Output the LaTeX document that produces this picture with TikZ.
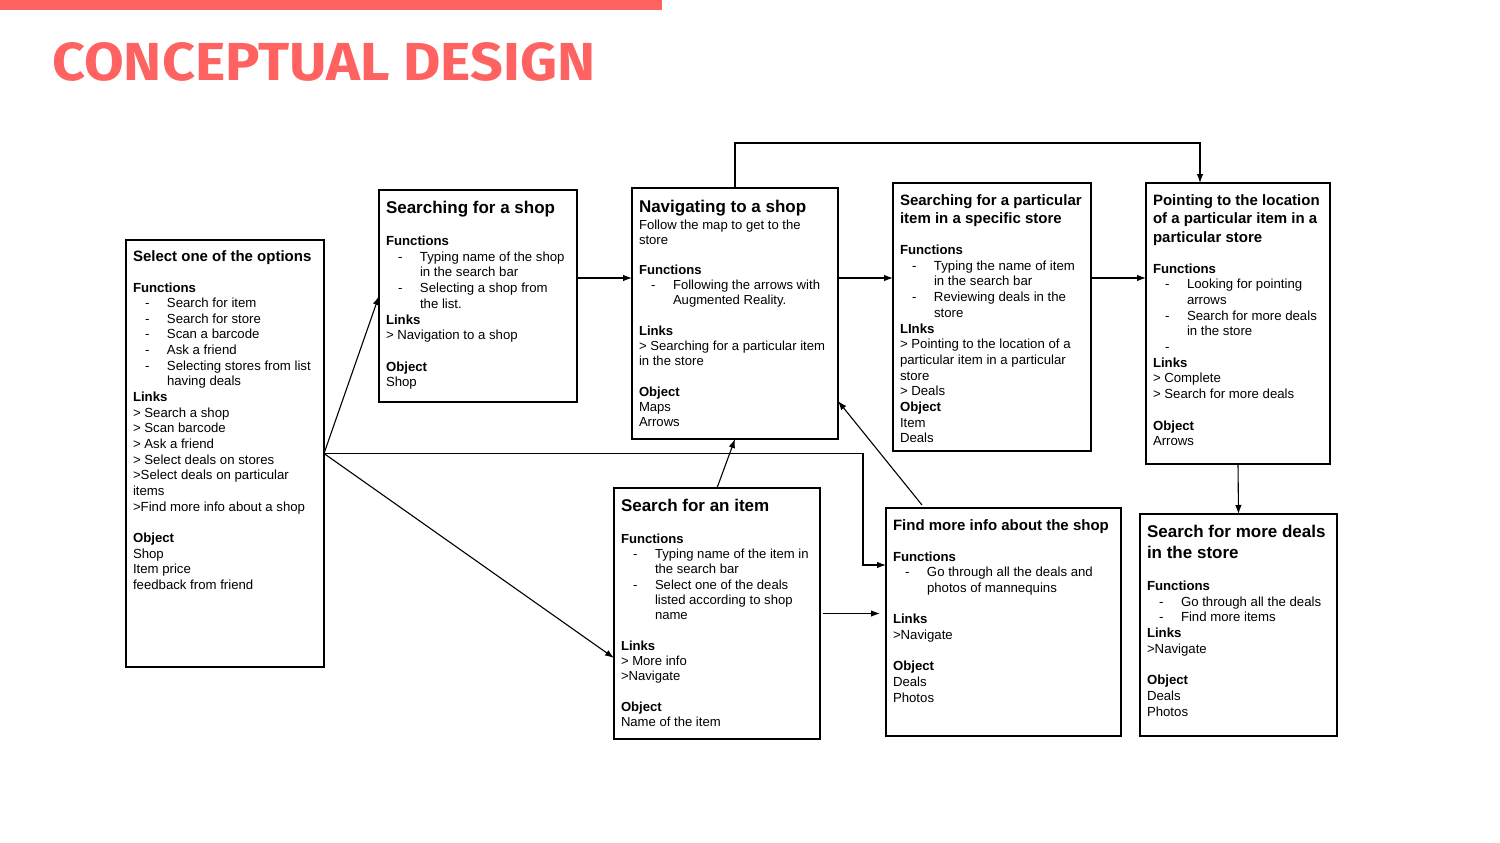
\documentclass[tikz,border=0pt]{standalone}
\usepackage{fontspec}
\setmainfont{Liberation Sans}
\newfontfamily\titlefont{Fira Sans}
\usetikzlibrary{arrows.meta,calc}

\definecolor{coral}{HTML}{FF6361}

% card helpers
\newcommand{\ttlsmall}[2][15pt]{{\fontsize{15}{18.5}\selectfont\bfseries #2\par}\vspace{#1}}
\newcommand{\ttlbig}[2][16pt]{{\fontsize{17}{21}\selectfont\bfseries #2\par}\vspace{#1}}
\newcommand{\hd}[1]{\textbf{#1}}
\newcommand{\itm}[1]{\hspace*{12pt}\makebox[22pt][l]{-}#1}
\newcommand{\cnt}[1]{\hspace*{34pt}#1}

\tikzset{
  card/.style={draw, line width=1.2pt, anchor=north west, inner xsep=7pt,
    inner ysep=11.5pt, outer sep=0pt, font=\fontsize{13.2}{15.7}\selectfont},
  tight/.style={font=\fontsize{13.1}{15.3}\selectfont},
  snug/.style={font=\fontsize{13.2}{15.65}\selectfont},
  link/.style={->, line width=1.1pt},
}

\begin{document}
\begin{tikzpicture}[>={Latex[length=9pt,width=6.5pt]}, x=1pt, y=-1pt]

\def\ya{278}
\def\bl{15.7pt}

\fill[white] (0,0) rectangle (1500,843);
\useasboundingbox (0,0) rectangle (1500,843);

%==== header ====
\fill[coral] (0,0) rectangle (662,10);
\node[anchor=base west, inner sep=0pt, text=coral,
  font=\titlefont\bfseries\fontsize{53.5}{60}\selectfont] (title) at (52,81)
  {\scalebox{1.075}[1]{CONCEPTUAL DESIGN}};

%==== (1) start ====
\node[card, snug] (sel) at (126,240) {\parbox[c][404pt][t]{184pt}{\raggedright
  \vspace*{-0.5pt}
  \ttlsmall[14.5pt]{Select one of the options}
  \hd{Functions}\\
  \itm{Search for item}\\
  \itm{Search for store}\\
  \itm{Scan a barcode}\\
  \itm{Ask a friend}\\
  \itm{Selecting stores from list}\\
  \cnt{having deals}\\
  \hd{Links}\\
  > Search a shop\\
  > Scan barcode\\
  > Ask a friend\\
  > Select deals on stores\\
  >Select deals on particular\\
  items\\
  >Find more info about a shop\\[15.65pt]
  \hd{Object}\\
  Shop\\
  Item price\\
  feedback from friend}};

%==== (2) shop ====
\node[card] (shop) at (379,190) {\parbox[c][189pt][t]{184pt}{\raggedright
  \ttlbig{Searching for a shop}
  \hd{Functions}\\
  \itm{Typing name of the shop}\\
  \cnt{in the search bar}\\
  \itm{Selecting a shop from}\\
  \cnt{the list.}\\
  \hd{Links}\\
  > Navigation to a shop\\[\bl]
  \hd{Object}\\
  Shop}};

%==== (3) navigation ====
\node[card, tight] (nav) at (632,188) {\parbox[c][228pt][t]{192pt}{\raggedright
  \vspace*{0.5pt}
  \ttlbig[1.5pt]{Navigating to a shop}
  Follow the map to get to the\\
  store\\[14.5pt]
  \hd{Functions}\\
  \itm{Following the arrows with}\\
  \cnt{Augmented Reality.}\\[15pt]
  \hd{Links}\\
  > Searching for a particular item\\
  in the store\\[15.2pt]
  \hd{Object}\\
  Maps\\
  Arrows}};

%==== (4) item in store ====
\node[card] (item) at (893,183) {\parbox[c][245pt][t]{184pt}{\raggedright
  \ttlsmall{Searching for a particular\\item in a specific store}
  \hd{Functions}\\
  \itm{Typing the name of item}\\
  \cnt{in the search bar}\\
  \itm{Reviewing deals in the}\\
  \cnt{store}\\
  \hd{LInks}\\
  > Pointing to the location of a\\
  particular item in a particular\\
  store\\
  > Deals\\
  \hd{Object}\\
  Item\\
  Deals}};

%==== (5) location ====
\node[card] (loc) at (1146,183) {\parbox[c][258pt][t]{170pt}{\raggedright
  \ttlsmall{Pointing to the location\\of a particular item in a\\particular store}
  \hd{Functions}\\
  \itm{Looking for pointing}\\
  \cnt{arrows}\\
  \itm{Search for more deals}\\
  \cnt{in the store}\\
  \itm{}\\
  \hd{Links}\\
  > Complete\\
  > Search for more deals\\[\bl]
  \hd{Object}\\
  Arrows}};

%==== (6) search item ====
\node[card, tight] (srch) at (614,488) {\parbox[c][228pt][t]{192pt}{\raggedright
  \ttlbig{Search for an item}
  \hd{Functions}\\
  \itm{Typing name of the item in}\\
  \cnt{the search bar}\\
  \itm{Select one of the deals}\\
  \cnt{listed according to shop}\\
  \cnt{name}\\[15.3pt]
  \hd{Links}\\
  > More info\\
  >Navigate\\[15.3pt]
  \hd{Object}\\
  Name of the item}};

%==== (7) more info ====
\node[card] (info) at (886,508) {\parbox[c][205pt][t]{221pt}{\raggedright
  \ttlsmall{Find more info about the shop}
  \hd{Functions}\\
  \itm{Go through all the deals and}\\
  \cnt{photos of mannequins}\\[\bl]
  \hd{Links}\\
  >Navigate\\[\bl]
  \hd{Object}\\
  Deals\\
  Photos}};

%==== (8) more deals ====
\node[card] (deals) at (1140,514) {\parbox[c][199pt][t]{183pt}{\raggedright
  \ttlbig{Search for more deals\\in the store}
  \hd{Functions}\\
  \itm{Go through all the deals}\\
  \itm{Find more items}\\
  \hd{Links}\\
  >Navigate\\[\bl]
  \hd{Object}\\
  Deals\\
  Photos}};

%==== connectors ====
\draw[link] (sel.east) -- (shop.west);
\draw[link] (sel.east) -- ([yshift=-44.5pt]srch.west);
\draw[link] (sel.east) -| ([xshift=-23pt,yshift=57pt]info.west) -- ([yshift=57pt]info.west);
\draw[link] (shop.east |- 0,\ya) -- (nav.west |- 0,\ya);
\draw[link] (nav.east |- 0,\ya) -- (item.west |- 0,\ya);
\draw[link] (item.east |- 0,\ya) -- (loc.west |- 0,\ya);
\draw[link] (nav.north) -- ++(0,-45) -| ([xshift=-38pt]loc.north);
\draw[link] (srch.north) -- (nav.south);
\draw[link] ([xshift=-81.5pt,yshift=3pt]info.north) -- ([yshift=-87.5pt]nav.east);
\draw[link, shorten <=3pt, shorten >=6pt] (srch.east) -- (srch.east -| info.west);
\draw[link] (loc.south) -- (deals.north);

\end{tikzpicture}
\end{document}
